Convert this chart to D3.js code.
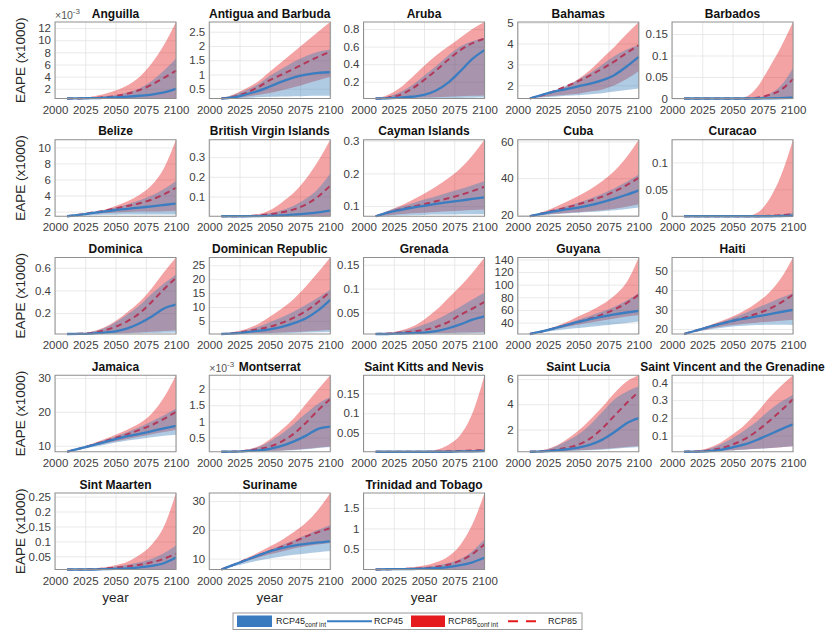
<!DOCTYPE html>
<html><head><meta charset="utf-8">
<script src="https://cdn.jsdelivr.net/npm/d3@7"></script>
<style>body{margin:0;background:#fff} text{font-family:"Liberation Sans",Arial,Helvetica,sans-serif}</style>
</head><body><svg id="c" width="830" height="635"></svg>
<script>
const years = [2010,2020,2030,2040,2050,2060,2070,2080,2090,2100];
const xTicks = [2000,2025,2050,2075,2100];
const countries = ["Anguilla","Antigua and Barbuda","Aruba","Bahamas","Barbados","Belize","British Virgin Islands","Cayman Islands","Cuba","Curacao","Dominica","Dominican Republic","Grenada","Guyana","Haiti","Jamaica","Montserrat","Saint Kitts and Nevis","Saint Lucia","Saint Vincent and the Grenadine","Sint Maarten","Suriname","Trinidad and Tobago"];
const exponents = [-3,0,0,0,0,0,0,0,0,0,0,0,0,0,0,0,-3,0,0,0,0,0,0];
const yTicks = [[2,4,6,8,10,12],[0.5,1,1.5,2,2.5],[0.2,0.4,0.6,0.8],[2,3,4,5],[0,0.05,0.1,0.15],
 [2,4,6,8,10],[0.1,0.2,0.3],[0.1,0.2,0.3],[20,40,60],[0,0.05,0.1],
 [0.2,0.4,0.6],[5,10,15,20,25],[0.05,0.1,0.15],[40,60,80,100,120,140],[20,30,40,50],
 [10,20,30],[0.5,1,1.5,2],[0.05,0.1,0.15],[2,4,6],[0.1,0.2,0.3,0.4],
 [0.05,0.1,0.15,0.2,0.25],[10,20,30],[0.5,1,1.5]];

const rcp85Hi = [
 [0.4,0.5,0.7,1.1,1.7,2.6,4.0,6.2,9.2,13.0],
 [0.16,0.3,0.5,0.75,1.1,1.45,1.8,2.15,2.5,2.84],
 [0.01,0.05,0.13,0.25,0.38,0.5,0.6,0.7,0.8,0.88],
 [1.37,1.5,1.7,1.95,2.3,2.75,3.3,3.85,4.45,5.03],
 [0,0,0,0,0,0.003,0.025,0.07,0.12,0.178],
 [1.42,1.6,1.85,2.2,2.7,3.3,4.1,5.3,7.4,10.95],
 [0,0,0.003,0.01,0.03,0.07,0.12,0.19,0.28,0.388],
 [0.069,0.085,0.1,0.118,0.138,0.16,0.185,0.215,0.255,0.303],
 [19.3,21.5,24,27,30.3,34,38.5,44,51.5,60.9],
 [0,0,0,0,0,0,0.006,0.03,0.075,0.142],
 [0.016,0.02,0.035,0.07,0.13,0.21,0.3,0.42,0.56,0.69],
 [0.3,1.0,2.0,3.8,6.5,9.5,13,17.5,22.5,27.8],
 [0.005,0.007,0.012,0.02,0.035,0.055,0.08,0.105,0.133,0.165],
 [22,27,33,40.5,49.6,58.5,69,83,104,143],
 [17.4,19.5,21.7,24,26.4,29.5,33.5,38.5,46,56.7],
 [8.2,9.2,10.5,11.8,13.2,14.8,16.6,19.5,24.2,30.8],
 [0.06,0.07,0.12,0.22,0.44,0.75,1.1,1.55,2.0,2.43],
 [0.003,0.003,0.003,0.003,0.004,0.008,0.02,0.045,0.1,0.196],
 [0.24,0.35,0.65,1.2,1.9,2.8,3.8,4.9,5.8,6.3],
 [0.009,0.015,0.03,0.06,0.106,0.16,0.23,0.31,0.38,0.44],
 [0.006,0.007,0.009,0.013,0.02,0.032,0.055,0.09,0.15,0.262],
 [6.2,8.0,10.0,12.0,14.2,16.5,19.2,22.5,27,32.8],
 [0.005,0.015,0.03,0.06,0.1,0.18,0.32,0.6,1.1,1.86]];

const rcp45Hi = [
 [0.4,0.45,0.55,0.7,0.95,1.4,2.1,3.3,5.0,7.0],
 [0.16,0.28,0.45,0.65,0.95,1.2,1.45,1.65,1.8,1.88],
 [0.01,0.03,0.08,0.16,0.27,0.38,0.5,0.6,0.66,0.70],
 [1.37,1.52,1.74,1.98,2.27,2.6,3.0,3.4,3.72,3.92],
 [0,0,0,0,0,0,0.002,0.01,0.03,0.071],
 [1.42,1.6,1.85,2.15,2.5,2.9,3.4,4.0,4.8,5.8],
 [0,0,0.002,0.006,0.015,0.03,0.055,0.09,0.14,0.217],
 [0.069,0.085,0.097,0.108,0.12,0.13,0.142,0.152,0.164,0.176],
 [19.3,21,22.8,24.7,26.7,29,31.5,34.5,38,42],
 [0,0,0,0,0,0,0,0.001,0.003,0.006],
 [0.016,0.02,0.033,0.065,0.12,0.19,0.27,0.37,0.46,0.54],
 [0.3,0.8,1.6,2.8,4.5,6.3,8.4,10.8,13.4,16.2],
 [0.005,0.006,0.01,0.016,0.025,0.035,0.048,0.062,0.077,0.092],
 [22,26.5,32,38,44.5,51,57.5,65,75,87],
 [17.4,19.3,21.3,23.4,25.6,28,30.7,33.3,36,38.5],
 [8.2,9.2,10.3,11.5,12.7,14,15.5,17.2,19,21],
 [0.06,0.07,0.11,0.2,0.38,0.62,0.92,1.25,1.55,1.76],
 [0.003,0.003,0.003,0.003,0.003,0.004,0.005,0.006,0.007,0.009],
 [0.24,0.33,0.6,1.05,1.6,2.4,3.4,4.4,5.0,5.4],
 [0.009,0.013,0.025,0.05,0.085,0.13,0.18,0.24,0.29,0.33],
 [0.006,0.006,0.008,0.011,0.016,0.022,0.03,0.042,0.06,0.086],
 [6.2,7.9,9.6,11.3,13,14.7,16.4,18.2,20,21.7],
 [0.005,0.013,0.02,0.035,0.06,0.1,0.16,0.26,0.45,0.74]];

const rcp85 = [
 [0.4,0.42,0.5,0.6,0.8,1.2,1.8,2.7,3.8,5.0],
 [0.16,0.22,0.35,0.55,0.8,1.0,1.2,1.42,1.62,1.8],
 [0.01,0.02,0.05,0.12,0.22,0.33,0.45,0.56,0.64,0.69],
 [1.37,1.52,1.72,1.95,2.2,2.48,2.8,3.15,3.55,3.92],
 [0,0,0,0,0,0,0.002,0.008,0.02,0.045],
 [1.42,1.6,1.85,2.1,2.4,2.7,3.05,3.5,4.15,4.97],
 [0,0,0.001,0.004,0.01,0.02,0.035,0.06,0.1,0.155],
 [0.069,0.08,0.09,0.098,0.106,0.115,0.124,0.134,0.146,0.159],
 [19.3,20.8,22.4,24,25.8,27.8,30,32.8,36.2,40.2],
 [0,0,0,0,0,0,0,0.001,0.002,0.004],
 [0.016,0.018,0.025,0.045,0.08,0.13,0.2,0.3,0.41,0.51],
 [0.3,0.6,1.2,2.0,2.9,4.3,6.2,8.6,11.8,15.6],
 [0.005,0.006,0.008,0.01,0.013,0.02,0.03,0.045,0.058,0.072],
 [22,26,31,36,41,46.5,53,61,71,84],
 [17.4,19.2,21,22.6,24.1,25.8,27.8,30.2,33.5,37.6],
 [8.2,9.1,10.1,11.2,12.3,13.4,14.7,16.1,17.9,20],
 [0.06,0.065,0.09,0.14,0.22,0.38,0.62,0.96,1.35,1.69],
 [0.003,0.003,0.003,0.003,0.003,0.003,0.004,0.005,0.006,0.007],
 [0.24,0.28,0.38,0.55,0.8,1.3,2.1,3.1,4.1,5.0],
 [0.009,0.011,0.016,0.028,0.05,0.08,0.125,0.18,0.24,0.305],
 [0.006,0.006,0.007,0.009,0.012,0.016,0.022,0.03,0.042,0.059],
 [6.2,7.8,9.5,11,12.6,14.1,15.8,17.7,19.2,20.6],
 [0.005,0.012,0.017,0.025,0.04,0.07,0.12,0.22,0.38,0.62]];

const rcp45 = [
 [0.4,0.42,0.45,0.5,0.6,0.7,0.85,1.05,1.4,2.0],
 [0.16,0.2,0.3,0.42,0.58,0.75,0.9,1.0,1.06,1.08],
 [0.01,0.012,0.02,0.03,0.05,0.1,0.19,0.32,0.46,0.56],
 [1.37,1.55,1.7,1.82,1.95,2.08,2.25,2.5,2.9,3.36],
 [0,0,0,0,0,0,0,0.0005,0.001,0.002],
 [1.42,1.6,1.8,2.0,2.2,2.35,2.5,2.65,2.82,3.0],
 [0,0,0,0.001,0.002,0.004,0.008,0.013,0.02,0.029],
 [0.069,0.08,0.088,0.095,0.101,0.107,0.112,0.117,0.122,0.127],
 [19.3,20.7,22,23,24,25.3,27,28.9,31,33.4],
 [0,0,0,0,0,0,0,0,0.0005,0.001],
 [0.016,0.017,0.02,0.028,0.04,0.065,0.11,0.17,0.24,0.274],
 [0.3,0.5,0.9,1.4,2.0,2.9,4.2,6.0,8.8,12.6],
 [0.005,0.005,0.006,0.007,0.008,0.011,0.017,0.025,0.035,0.042],
 [22,26,31,36,41,45.5,49.6,53,56,58.7],
 [17.4,19.2,21,22.6,24.1,25.3,26.4,27.5,28.7,29.8],
 [8.2,9.1,10,11,11.9,12.8,13.5,14.3,15.1,15.85],
 [0.06,0.065,0.08,0.1,0.15,0.24,0.38,0.56,0.77,0.84],
 [0.003,0.003,0.003,0.003,0.003,0.003,0.003,0.004,0.004,0.005],
 [0.24,0.27,0.33,0.42,0.56,0.8,1.2,1.8,2.5,2.9],
 [0.009,0.01,0.013,0.02,0.034,0.05,0.075,0.105,0.135,0.163],
 [0.006,0.006,0.006,0.007,0.008,0.01,0.013,0.018,0.027,0.046],
 [6.2,7.8,9.4,11,12.5,13.6,14.5,15.1,15.6,16.0],
 [0.005,0.011,0.013,0.017,0.025,0.04,0.065,0.11,0.18,0.29]];

const rcp85Lo = [
 [0.4,0.4,0.41,0.42,0.43,0.44,0.45,0.46,0.48,0.5],
 [0.16,0.18,0.22,0.28,0.35,0.45,0.55,0.68,0.8,0.91],
 [0.01,0.012,0.015,0.018,0.021,0.025,0.03,0.035,0.04,0.045],
 [1.37,1.45,1.5,1.55,1.6,1.7,1.8,2.0,2.3,2.67],
 [0,0,0,0,0,0,0,0,0,0],
 [1.42,1.55,1.7,1.8,1.9,1.95,2.0,2.0,2.05,2.1],
 [0,0,0,0,0,0,0,0,0,0],
 [0.069,0.072,0.075,0.078,0.08,0.082,0.084,0.086,0.088,0.09],
 [19.3,20,20.6,21.1,21.5,22,22.6,23.4,24.5,25.8],
 [0,0,0,0,0,0,0,0,0,0],
 [0.016,0.017,0.018,0.02,0.022,0.025,0.03,0.035,0.042,0.05],
 [0.3,0.4,0.5,0.6,0.7,0.85,1.0,1.2,1.45,1.7],
 [0.005,0.005,0.005,0.006,0.006,0.007,0.007,0.008,0.008,0.009],
 [22,25.5,29,33,36.5,40,43.5,46.5,49.5,52],
 [17.4,18.7,20,21.1,22,22.7,23.2,23.7,24.2,24.7],
 [8.2,9,9.8,10.6,11.3,12,12.7,13.4,14,14.7],
 [0.06,0.06,0.07,0.08,0.09,0.1,0.12,0.15,0.19,0.22],
 [0.003,0.003,0.003,0.003,0.003,0.003,0.003,0.003,0.003,0.003],
 [0.24,0.25,0.27,0.3,0.35,0.4,0.45,0.53,0.62,0.7],
 [0.009,0.01,0.012,0.015,0.018,0.022,0.026,0.03,0.035,0.04],
 [0.006,0.006,0.006,0.006,0.007,0.007,0.007,0.008,0.008,0.008],
 [6.2,7.6,9,10.3,11.5,12.5,13.5,14.3,14.9,15.4],
 [0.005,0.006,0.007,0.008,0.009,0.01,0.012,0.014,0.017,0.02]];

const rcp45Lo = [
 [0.4,0.4,0.4,0.4,0.41,0.41,0.42,0.42,0.43,0.44],
 [0.16,0.17,0.18,0.2,0.22,0.23,0.24,0.25,0.26,0.26],
 [0.01,0.011,0.012,0.013,0.014,0.015,0.016,0.017,0.018,0.02],
 [1.37,1.42,1.45,1.5,1.53,1.57,1.62,1.7,1.78,1.85],
 [0,0,0,0,0,0,0,0,0,0],
 [1.42,1.5,1.55,1.6,1.62,1.63,1.64,1.65,1.65,1.65],
 [0,0,0,0,0,0,0,0,0,0],
 [0.069,0.07,0.071,0.072,0.073,0.074,0.074,0.075,0.075,0.075],
 [19.3,19.9,20.4,20.8,21.2,21.6,22,22.6,23.3,24],
 [0,0,0,0,0,0,0,0,0,0],
 [0.016,0.016,0.017,0.018,0.019,0.02,0.022,0.024,0.027,0.03],
 [0.3,0.35,0.4,0.45,0.5,0.6,0.7,0.8,0.9,1.0],
 [0.005,0.005,0.005,0.005,0.005,0.006,0.006,0.006,0.007,0.007],
 [22,24.5,27,29.5,31.5,33.5,35.5,37.5,39.5,41.6],
 [17.4,18.5,19.6,20.5,21.3,21.7,22,22.2,22.1,22],
 [8.2,8.8,9.5,10.2,10.9,11.5,12,12.5,12.9,13.2],
 [0.06,0.06,0.065,0.07,0.08,0.09,0.11,0.14,0.18,0.21],
 [0.003,0.003,0.003,0.003,0.003,0.003,0.003,0.003,0.003,0.003],
 [0.24,0.25,0.26,0.28,0.31,0.35,0.4,0.47,0.55,0.62],
 [0.009,0.01,0.011,0.013,0.016,0.02,0.024,0.029,0.034,0.04],
 [0.006,0.006,0.006,0.006,0.006,0.006,0.006,0.007,0.007,0.007],
 [6.2,7.3,8.3,9.2,10,10.7,11.3,11.8,12.2,12.6],
 [0.005,0.005,0.006,0.007,0.008,0.009,0.01,0.012,0.014,0.016]];

const svg = d3.select("#c");
const W = 121, H = 76.5;
const colLeft = j => 55 + j * 154.25;
const rowTop = i => 22 + i * 117.75;
const blue = "#377eb8", red = "#e41a1c";

countries.forEach((name, k) => {
  const r = Math.floor(k / 5), c = k % 5;
  const g = svg.append("g").attr("transform", `translate(${colLeft(c)},${rowTop(r)})`);
  const x = d3.scaleLinear().domain([2000, 2100]).range([0, W]);
  const all = [].concat(rcp85Hi[k], rcp45Hi[k], rcp85Lo[k], rcp45Lo[k], rcp85[k], rcp45[k]);
  const y = d3.scaleLinear().domain(d3.extent(all)).range([H, 0]);

  const gx = g.append("g").attr("transform", `translate(0,${H})`)
    .call(d3.axisBottom(x).tickValues(xTicks).tickSize(-H).tickFormat(""));
  const gy = g.append("g").call(d3.axisLeft(y).tickValues(yTicks[k]).tickSize(-W).tickFormat(""));
  [gx, gy].forEach(a => { a.select(".domain").remove(); a.selectAll("line").attr("stroke", "#e3e3e3").attr("stroke-width", 0.8); });

  const area = (lo, hi) => d3.area().x((d, i) => x(years[i])).y0((d, i) => y(lo[i])).y1(d => y(d)).curve(d3.curveMonotoneX)(hi);
  const line = arr => d3.line().x((d, i) => x(years[i])).y(d => y(d)).curve(d3.curveMonotoneX)(arr);

  g.append("path").attr("d", area(rcp85Lo[k], rcp85Hi[k])).attr("fill", red).attr("fill-opacity", 0.4);
  g.append("path").attr("d", area(rcp45Lo[k], rcp45Hi[k])).attr("fill", blue).attr("fill-opacity", 0.4);
  g.append("path").attr("d", line(rcp85[k])).attr("fill", "none").attr("stroke", "#b3385a")
    .attr("stroke-width", 2).attr("stroke-dasharray", "6,4");
  g.append("path").attr("d", line(rcp45[k])).attr("fill", "none").attr("stroke", "#3a7dc0").attr("stroke-width", 2.3);

  g.append("rect").attr("width", W).attr("height", H).attr("fill", "none").attr("stroke", "#8f8f8f").attr("stroke-width", 1);

  const ax = g.append("g").attr("transform", `translate(0,${H})`)
    .call(d3.axisBottom(x).tickValues(xTicks).tickSize(0).tickPadding(7).tickFormat(d3.format("d")));
  const ay = g.append("g").call(d3.axisLeft(y).tickValues(yTicks[k]).tickSize(0).tickPadding(4).tickFormat(d => String(d)));
  [ax, ay].forEach(a => {
    a.select(".domain").remove();
    a.selectAll("text").attr("font-size", 11.5).attr("fill", "#404040").attr("font-family", '"Liberation Sans",Arial,sans-serif');
  });

  g.append("text").attr("x", W / 2).attr("y", -4.5).attr("text-anchor", "middle")
    .attr("font-size", 12).attr("font-weight", "bold").attr("fill", "#111").text(name);

  if (exponents[k] !== 0) {
    const t = g.append("text").attr("x", 0).attr("y", -3).attr("font-size", 10.5).attr("fill", "#555");
    t.append("tspan").text("×10");
    t.append("tspan").attr("dy", -5).attr("font-size", 8).text(String(exponents[k]));
  }

  if (c === 0) {
    svg.append("text").attr("transform", `translate(${colLeft(0) - 30},${rowTop(r) + H / 2}) rotate(-90)`)
      .attr("text-anchor", "middle").attr("font-size", 13.5).attr("fill", "#262626").text("EAPE (x1000)");
  }
  if (r === 4) {
    svg.append("text").attr("x", colLeft(c) + W / 2).attr("y", rowTop(r) + H + 32).attr("text-anchor", "middle")
      .attr("font-size", 13.5).attr("fill", "#262626").text("year");
  }
});

// legend
const lg = svg.append("g").attr("transform", "translate(233,613)");
lg.append("rect").attr("width", 349).attr("height", 16.5).attr("fill", "#fff").attr("stroke", "#999");
lg.append("rect").attr("x", 4).attr("y", 2.5).attr("width", 35).attr("height", 11.5).attr("fill", "#3a7bbf");
lg.append("rect").attr("x", 178).attr("y", 2.5).attr("width", 34).attr("height", 11.5).attr("fill", red);
lg.append("line").attr("x1", 94).attr("x2", 139).attr("y1", 8.25).attr("y2", 8.25).attr("stroke", "#3a7dc0").attr("stroke-width", 2);
lg.append("line").attr("x1", 275).attr("x2", 303).attr("y1", 8.25).attr("y2", 8.25).attr("stroke", red).attr("stroke-width", 2).attr("stroke-dasharray", "10,8");
function legText(xp, main, sub) {
  const t = lg.append("text").attr("x", xp).attr("y", 11).attr("font-size", 9).attr("fill", "#222");
  t.append("tspan").text(main);
  if (sub) t.append("tspan").attr("dy", 3).attr("font-size", 6.5).text(sub);
}
legText(43, "RCP45", "conf int");
legText(141, "RCP45");
legText(215, "RCP85", "conf int");
legText(315, "RCP85");
</script></body></html>
